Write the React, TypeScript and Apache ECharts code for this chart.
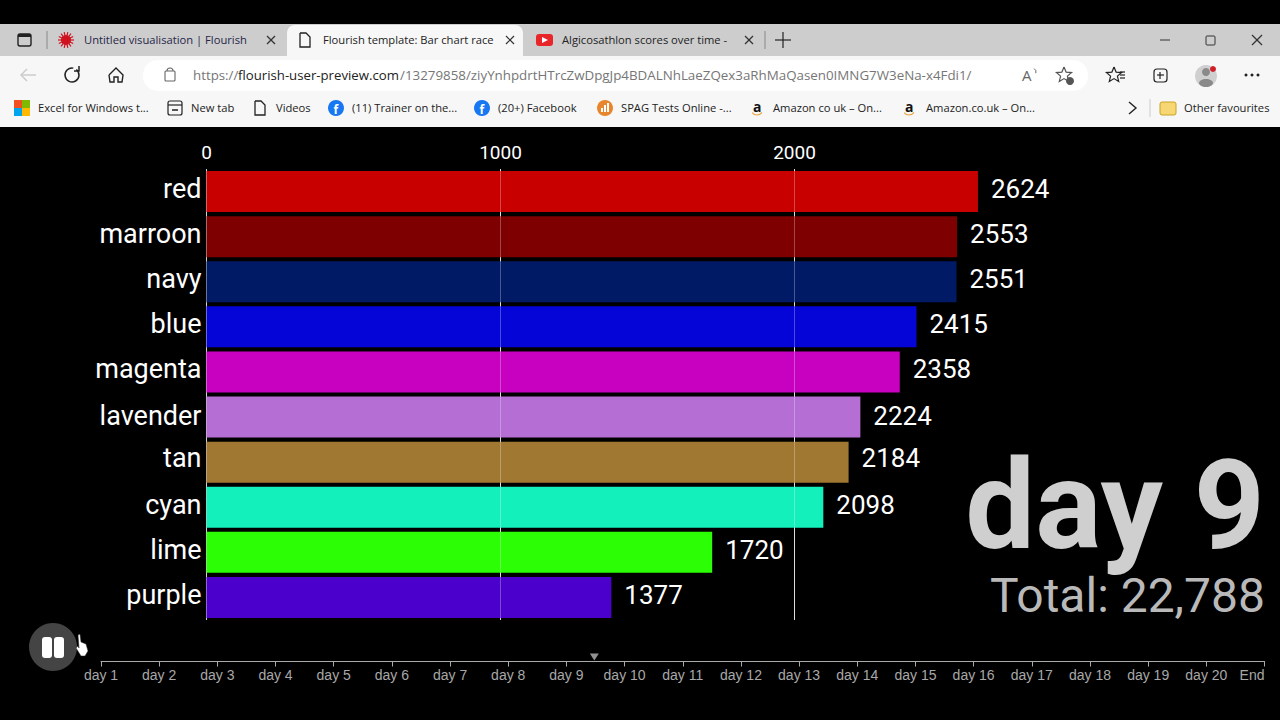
import React, { useEffect, useRef } from "react";
import * as echarts from "echarts";

const categories = ["red", "marroon", "navy", "blue", "magenta", "lavender", "tan", "cyan", "lime", "purple"];
const values = [2624, 2553, 2551, 2415, 2358, 2224, 2184, 2098, 1720, 1377];
const barColors = ["#c80000", "#7e0000", "#001a66", "#0505d8", "#c800c0", "#b56fd4", "#a07832", "#14f0bc", "#2cff05", "#4b00cc"];
const raceDrift = [0, 0, 0, 0, 0, 1.5, -1.5, 0, 0, 0];
const timelineLabels = ["day 1", "day 2", "day 3", "day 4", "day 5", "day 6", "day 7", "day 8", "day 9", "day 10", "day 11", "day 12", "day 13", "day 14", "day 15", "day 16", "day 17", "day 18", "day 19", "day 20", "End"];
const timelinePosition = [9.48];
const bigLabel = "day 9";
const totalLabel = "Total: 22,788";

const UI = "'Open Sans', sans-serif";
const CHART = "Roboto, sans-serif";
const UI_SIZE = 11.2;

function txt(text: string, x: number, y: number, size = UI_SIZE, fill = "#222", extra: any = {}) {
  return {
    type: "text", x, y, silent: true, z: 10,
    style: { text, fontSize: size, fontFamily: UI, fill, align: "left", verticalAlign: "middle", ...extra },
  };
}
function rect(x: number, y: number, width: number, height: number, fill: string, r: any = 0, z = 5, extra: any = {}) {
  return { type: "rect", silent: true, z, shape: { x, y, width, height, r }, style: { fill, ...extra } };
}
function ln(x1: number, y1: number, x2: number, y2: number, stroke = "#333", lineWidth = 1.2) {
  return { type: "line", silent: true, z: 10, shape: { x1, y1, x2, y2 }, style: { stroke, lineWidth } };
}
function poly(points: number[][], stroke = "#333", lineWidth = 1.3) {
  return { type: "polyline", silent: true, z: 10, shape: { points }, style: { stroke, lineWidth, fill: "none" } };
}
function circ(cx: number, cy: number, r: number, fill: string, z = 10, extra: any = {}) {
  return { type: "circle", silent: true, z, shape: { cx, cy, r }, style: { fill, ...extra } };
}
function closeX(cx: number, cy: number, d = 4, c = "#333") {
  return [ln(cx - d, cy - d, cx + d, cy + d, c), ln(cx - d, cy + d, cx + d, cy - d, c)];
}
function doc(cx: number, cy: number) {
  return poly([[cx - 5, cy - 7], [cx + 1, cy - 7], [cx + 5, cy - 3], [cx + 5, cy + 7], [cx - 5, cy + 7], [cx - 5, cy - 7]], "#222", 1.3);
}
function fb(cx: number, cy: number) {
  return [circ(cx, cy, 8, "#1877f2"), txt("f", cx - 2.5, cy + 1, 12, "#fff", { fontWeight: "bold" })];
}
function amazon(cx: number) {
  return [txt("a", cx - 4, 106, 14, "#111", { fontWeight: "bold" }), { type: "arc", silent: true, z: 10, shape: { cx, cy: 109, r: 6, startAngle: 0.6, endAngle: 2.5 }, style: { stroke: "#e8a33d", lineWidth: 1.2, fill: "none" } }];
}
function star(cx: number, cy: number, r: number, stroke = "#333") {
  const pts: number[][] = [];
  for (let i = 0; i <= 10; i++) {
    const a = -Math.PI / 2 + (i * Math.PI) / 5;
    const rr = i % 2 ? r * 0.45 : r;
    pts.push([cx + rr * Math.cos(a), cy + rr * Math.sin(a)]);
  }
  return poly(pts, stroke, 1.2);
}
function burst(cx: number, cy: number) {
  const out: any[] = [circ(cx, cy, 5, "#d0121f")];
  for (let i = 0; i < 14; i++) {
    const a = (i * Math.PI) / 7;
    out.push(ln(cx + 4 * Math.cos(a), cy + 4 * Math.sin(a), cx + 8 * Math.cos(a), cy + 8 * Math.sin(a), "#d0121f", 1.2));
  }
  return out;
}

function browserChrome() {
  return [
    rect(0, 24, 1280, 32, "#cdcdcd", 0, 1),
    rect(0, 56, 1280, 71, "#f7f7f7", 0, 1),
    rect(287, 25, 236, 32, "#f7f7f7", [8, 8, 0, 0], 2),
    rect(143, 60, 945, 31, "#ffffff", 15, 2),
    rect(18, 34, 13, 12, "none", 2, 10, { stroke: "#222", lineWidth: 1.4 }),
    rect(18, 34, 13, 3, "#222", 0, 10),
    ln(47, 31, 47, 49, "#888", 1),
    ...burst(66, 40),
    txt("Untitled visualisation | Flourish", 84, 39.5, UI_SIZE, "#26264a"),
    ...closeX(271, 40),
    doc(305, 40),
    txt("Flourish template: Bar chart race", 323, 39.5),
    ...closeX(510, 40),
    rect(536, 34, 17, 12, "#e8262a", 3, 10),
    { type: "polygon", silent: true, z: 11, shape: { points: [[542, 37], [542, 43], [548, 40]] }, style: { fill: "#fff" } },
    txt("Algicosathlon scores over time -", 562, 39.5),
    ...closeX(749, 40),
    ln(765, 31, 765, 49, "#888", 1),
    ln(775, 40, 791, 40, "#222"),
    ln(783, 32, 783, 48, "#222"),
    ln(1160, 40, 1170, 40, "#333", 1),
    rect(1206, 36, 9, 9, "none", 1, 10, { stroke: "#333", lineWidth: 1 }),
    ...closeX(1257, 40, 5),
    ln(21, 75, 36, 75, "#c9c9c9", 1.4),
    poly([[27, 69], [21, 75], [27, 81]], "#c9c9c9", 1.4),
    { type: "arc", silent: true, z: 10, shape: { cx: 72, cy: 75, r: 7, startAngle: -0.9, endAngle: 4.9 }, style: { stroke: "#222", lineWidth: 1.5, fill: "none" } },
    poly([[79, 66], [79, 71], [74, 71]], "#222", 1.5),
    poly([[109, 75], [116, 68], [123, 75], [122, 82], [118, 82], [118, 77], [114, 77], [114, 82], [110, 82], [109, 75]], "#222", 1.4),
    rect(165, 71, 10, 10, "none", 1, 10, { stroke: "#666", lineWidth: 1.1 }),
    { type: "arc", silent: true, z: 10, shape: { cx: 170, cy: 71, r: 3, startAngle: Math.PI, endAngle: 0 }, style: { stroke: "#666", lineWidth: 1.1, fill: "none" } },
    txt("https://", 193, 75, 13.3, "#767676"),
    txt("flourish-user-preview.com", 238, 75, 13.2, "#222"),
    txt("/13279858/ziyYnhpdrtHTrcZwDpgJp4BDALNhLaeZQex3aRhMaQasen0IMNG7W3eNa-x4Fdi1/", 400, 75, 13.35, "#767676"),
    txt("A", 1022, 75, 15, "#666"),
    { type: "arc", silent: true, z: 10, shape: { cx: 1032, cy: 72, r: 4, startAngle: -1, endAngle: 0.3 }, style: { stroke: "#666", lineWidth: 1, fill: "none" } },
    star(1064, 75, 8, "#555"),
    circ(1070, 81, 4, "#555"),
    star(1114, 75, 8, "#222"),
    ln(1120, 72, 1125, 72, "#222"), ln(1120, 75, 1125, 75, "#222"), ln(1120, 78, 1125, 78, "#222"),
    rect(1154, 69, 13, 13, "none", 3, 10, { stroke: "#222", lineWidth: 1.2 }),
    ln(1160, 72, 1160, 79, "#222"), ln(1157, 75, 1164, 75, "#222"),
    circ(1206, 76, 11, "#cfcfcf"),
    circ(1206, 72, 4, "#8a8a8a"),
    { type: "ellipse", silent: true, z: 10, shape: { cx: 1206, cy: 83, rx: 7, ry: 4 }, style: { fill: "#8a8a8a" } },
    circ(1213, 69, 3, "#d11f2a", 11),
    circ(1246, 75, 1.5, "#222"), circ(1252, 75, 1.5, "#222"), circ(1258, 75, 1.5, "#222"),
    rect(14, 100, 8, 8, "#f25022", 0, 10), rect(22, 100, 8, 8, "#7fba00", 0, 10),
    rect(14, 108, 8, 8, "#00a4ef", 0, 10), rect(22, 108, 8, 8, "#ffb900", 0, 10),
    txt("Excel for Windows t...", 38, 107.5),
    rect(168, 101, 14, 14, "none", 2, 10, { stroke: "#222", lineWidth: 1.2 }),
    ln(168, 105, 182, 105, "#222"),
    ln(172, 110, 178, 110, "#222", 1.5),
    txt("New tab", 191, 107.5),
    doc(260, 108),
    txt("Videos", 276, 107.5),
    ...fb(336, 108),
    txt("(11) Trainer on the...", 352, 107.5),
    ...fb(482, 108),
    txt("(20+) Facebook", 498, 107.5),
    circ(605, 108, 8, "#e8862e"),
    rect(601, 108, 2, 4, "#fff", 0, 11), rect(604, 105, 2, 7, "#fff", 0, 11), rect(607, 103, 2, 9, "#fff", 0, 11),
    txt("SPAG Tests Online -...", 621, 107.5),
    ...amazon(757),
    txt("Amazon co uk – On...", 773, 107.5),
    ...amazon(909),
    txt("Amazon.co.uk – On...", 926, 107.5),
    poly([[1129, 102], [1136, 108], [1129, 114]], "#222", 1.4),
    ln(1150, 99, 1150, 117, "#ccc", 1),
    rect(1160, 102, 16, 13, "#f7d774", 2, 10, { stroke: "#c9a227", lineWidth: 1 }),
    txt("Other favourites", 1184, 107.5),
  ];
}

function overlays() {
  return [
    { type: "text", silent: true, z: 10, x: 1265, y: 505, style: { text: bigLabel, fontFamily: CHART, fontSize: 124, fontWeight: 700, lineHeight: 96, fill: "#cfcfcf", align: "right", verticalAlign: "middle" } },
    { type: "text", silent: true, z: 10, x: 1265, y: 595, style: { text: totalLabel, fontFamily: CHART, fontSize: 48, lineHeight: 38, fill: "#b9b9b9", align: "right", verticalAlign: "middle" } },
    circ(53, 647, 24, "#444444"),
    rect(42, 637, 10, 21, "#ffffff", 3, 11),
    rect(54, 637, 10, 21, "#ffffff", 3, 11),
    { type: "polygon", silent: true, z: 12, shape: { points: [[78, 635], [80, 634], [81, 642], [86, 644], [88, 651], [85, 656], [81, 656], [76, 648], [78, 646], [79, 648]] }, style: { fill: "#ffffff", stroke: "#222", lineWidth: 0.5 } },
  ];
}

export default function App() {
  const ref = useRef<HTMLDivElement>(null);
  useEffect(() => {
    const chart = echarts.init(ref.current!, undefined, { renderer: "svg" });
    chart.setOption({
      animation: false,
      backgroundColor: "#000000",
      grid: [
        { left: 206.5, top: 169, width: 882, height: 451 },
        { left: 101, top: 650, width: 1163.5, height: 11.5 },
      ],
      xAxis: [
        {
          gridIndex: 0, type: "value", position: "top", min: 0, max: 3000, interval: 1000, z: 1,
          axisLine: { show: false }, axisTick: { show: false },
          axisLabel: { color: "#ffffff", fontFamily: CHART, fontSize: 19, margin: 7, showMaxLabel: false, formatter: (v: number) => String(v) },
          splitLine: { show: true, showMaxLine: false, lineStyle: { color: "rgba(255,255,255,0.82)", width: 1 } },
        },
        {
          gridIndex: 1, type: "value", position: "bottom", min: 1, max: 21, interval: 1,
          axisLine: { show: true, lineStyle: { color: "#aaaaaa", width: 1 } },
          axisTick: { show: true, length: 5, inside: false, lineStyle: { color: "#aaaaaa" } },
          axisLabel: {
            color: "#a8a8a8", fontFamily: "'Liberation Sans', Arial, sans-serif", fontSize: 14, margin: 6,
            alignMaxLabel: "right",
            formatter: (v: number) => timelineLabels[Math.round(v) - 1] ?? "",
          },
          splitLine: { show: false },
        },
        {
          gridIndex: 0, type: "value", position: "bottom", min: 0, max: 3000, interval: 1000, z: 5,
          axisLine: { show: false }, axisTick: { show: false }, axisLabel: { show: false },
          splitLine: { show: true, showMinLine: false, showMaxLine: false, lineStyle: { color: "rgba(255,255,255,0.28)", width: 1 } },
        },
      ],
      yAxis: [
        {
          gridIndex: 0, type: "category", inverse: true, z: 3,
          data: categories.map((value, i) => ({ value, textStyle: { verticalAlign: "bottom", lineHeight: 5 - raceDrift[i] * 2 } })),
          axisLine: { show: false }, axisTick: { show: false },
          axisLabel: { color: "#ffffff", fontFamily: CHART, fontSize: 27, margin: 5 },
        },
        { gridIndex: 1, type: "value", min: 0, max: 1, show: false },
      ],
      series: [
        {
          type: "bar", xAxisIndex: 0, yAxisIndex: 0, z: 2, barWidth: 41,
          data: values.map((value, i) => ({ value, itemStyle: { color: barColors[i] }, label: { offset: [0, -2.5 + raceDrift[i]] } })),
          label: { show: true, position: "right", distance: 13, color: "#ffffff", fontFamily: CHART, fontSize: 26 },
        },
        {
          type: "scatter", xAxisIndex: 1, yAxisIndex: 1, symbol: "triangle", symbolRotate: 180, symbolSize: [9, 7],
          itemStyle: { color: "#b5b5b5" }, data: timelinePosition.map((v) => [v, 0.4]),
        },
      ],
      graphic: { elements: [...browserChrome(), ...overlays()] },
    });
    return () => chart.dispose();
  }, []);
  return <div ref={ref} style={{ position: "fixed", left: 0, top: 0, width: 1280, height: 720 }} />;
}
